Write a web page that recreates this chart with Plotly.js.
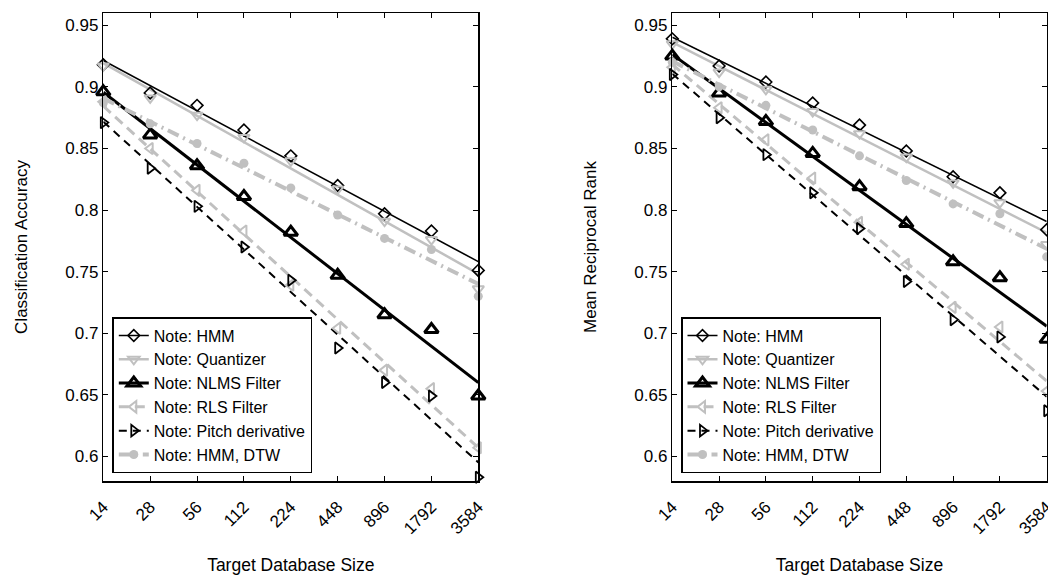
<!DOCTYPE html>
<html>
<head>
<meta charset="utf-8">
<script src="https://cdn.plot.ly/plotly-3.0.1.min.js"></script>
<style>html,body{margin:0;padding:0;background:#fff;}#chart{width:1048px;height:575px;}</style>
</head>
<body>
<div id="chart"></div>
<script>
const categories = ['14','28','56','112','224','448','896','1792','3584'];
const seriesNames = ['Note: HMM','Note: Quantizer','Note: NLMS Filter','Note: RLS Filter','Note: Pitch derivative','Note: HMM, DTW'];

// Classification Accuracy (left panel)
const accHMM   = [0.918, 0.895, 0.885, 0.865, 0.844, 0.820, 0.797, 0.783, 0.751];
const accQuant = [0.917, 0.891, 0.877, 0.859, 0.840, 0.817, 0.791, 0.776, 0.736];
const accNLMS  = [0.896, 0.861, 0.836, 0.811, 0.782, 0.747, 0.715, 0.703, 0.649];
const accRLS   = [0.888, 0.850, 0.816, 0.783, 0.739, 0.704, 0.670, 0.655, 0.607];
const accPitch = [0.871, 0.834, 0.803, 0.770, 0.743, 0.688, 0.660, 0.649, 0.583];
const accDTW   = [0.887, 0.870, 0.854, 0.838, 0.818, 0.796, 0.777, 0.768, 0.730];

// Mean Reciprocal Rank (right panel)
const mrrHMM   = [0.939, 0.917, 0.904, 0.887, 0.869, 0.848, 0.827, 0.814, 0.784];
const mrrQuant = [0.935, 0.912, 0.898, 0.880, 0.862, 0.843, 0.822, 0.806, 0.772];
const mrrNLMS  = [0.925, 0.895, 0.872, 0.846, 0.819, 0.789, 0.758, 0.745, 0.695];
const mrrRLS   = [0.916, 0.883, 0.857, 0.826, 0.790, 0.756, 0.721, 0.705, 0.653];
const mrrPitch = [0.910, 0.875, 0.845, 0.814, 0.785, 0.742, 0.711, 0.697, 0.637];
const mrrDTW   = [0.920, 0.900, 0.885, 0.865, 0.844, 0.824, 0.805, 0.797, 0.762];

const GRAY = '#c0c0c0';
const styles = [
  {color:'black', width:1.6, dash:'solid', symbol:'diamond-open', size:9, mlw:1.6},
  {color:GRAY, width:2.5, dash:'solid', symbol:'triangle-down-open', size:10, mlw:2},
  {color:'black', width:3, dash:'solid', symbol:'triangle-up-open', size:12, mlw:3},
  {color:GRAY, width:3, dash:'10px,6px', symbol:'triangle-left-open', size:10, mlw:2},
  {color:'black', width:2, dash:'8px,6px', symbol:'triangle-right-open', size:10, mlw:1.8},
  {color:GRAY, width:4, dash:'12px,5px,2px,5px', symbol:'circle', size:9, mlw:0}
];

// least-squares straight line over the (log-spaced) category index
function fit(vals){
  const n = vals.length;
  const mx = (n-1)/2;
  const my = vals.reduce((a,b)=>a+b,0)/n;
  let sxy=0, sxx=0;
  vals.forEach((v,i)=>{sxy+=(i-mx)*(v-my); sxx+=(i-mx)*(i-mx);});
  const b = sxy/sxx;
  return vals.map((v,i)=>my + b*(i-mx));
}

const traces = [];
function addPanel(data, xa, ya, legend){
  data.forEach((vals,k)=>{
    const s = styles[k];
    traces.push({type:'scatter', mode:'lines', x:categories, y:fit(vals), xaxis:xa, yaxis:ya,
      line:{color:s.color, width:s.width, dash:s.dash}, showlegend:false, hoverinfo:'skip'});
  });
  data.forEach((vals,k)=>{
    const s = styles[k];
    traces.push({type:'scatter', mode:'markers', x:categories, y:vals, xaxis:xa, yaxis:ya,
      cliponaxis:false,
      marker:{symbol:s.symbol, size:s.size, color:s.color, line:{color:s.color, width:s.mlw}},
      showlegend:false});
  });
  data.forEach((vals,k)=>{
    const s = styles[k];
    traces.push({type:'scatter', mode:'lines+markers', x:[null], y:[null], xaxis:xa, yaxis:ya,
      name:seriesNames[k], legend:legend,
      line:{color:s.color, width:s.width, dash:s.dash},
      marker:{symbol:s.symbol, size:s.size, color:s.color, line:{color:s.color, width:s.mlw}}});
  });
}
addPanel([accHMM,accQuant,accNLMS,accRLS,accPitch,accDTW],'x','y','legend');
addPanel([mrrHMM,mrrQuant,mrrNLMS,mrrRLS,mrrPitch,mrrDTW],'x2','y2','legend2');

const FONT = 'Liberation Sans, Arial, Helvetica, sans-serif';
function xaxis(domain, anchor){
  return {domain:domain, anchor:anchor, type:'category', range:[0,8],
    showline:true, linecolor:'black', linewidth:1.5, mirror:'allticks',
    ticks:'inside', ticklen:5, tickcolor:'black', tickwidth:1,
    tickangle:-45, ticklabelstandoff:8, showgrid:false, zeroline:false,
    tickfont:{family:FONT, size:17, color:'black'},
    title:{text:'Target Database Size', font:{family:FONT, size:17.5, color:'black'}, standoff:34}};
}
function yaxis(anchor, title){
  return {anchor:anchor, domain:[0,1], range:[0.58,0.96], tick0:0.6, dtick:0.05,
    showline:true, linecolor:'black', linewidth:1.5, mirror:'allticks',
    ticks:'inside', ticklen:5, tickcolor:'black', tickwidth:1,
    showgrid:false, zeroline:false,
    tickfont:{family:FONT, size:17, color:'black'},
    title:{text:title, font:{family:FONT, size:17, color:'black'}, standoff:33}};
}
const legendBase = {bgcolor:'white', bordercolor:'black', borderwidth:1.5,
  font:{family:FONT, size:16, color:'black'}, xanchor:'left', yanchor:'bottom', y:0.017,
  tracegroupgap:0, itemwidth:30};

const layout = {
  width:1048, height:575,
  margin:{l:0, r:0, t:13, b:94},
  paper_bgcolor:'white', plot_bgcolor:'white',
  font:{family:FONT, color:'black'},
  xaxis: xaxis([103.3/1048, 478.3/1048], 'y'),
  yaxis: yaxis('x','Classification Accuracy'),
  xaxis2: xaxis([672.3/1048, 1046.7/1048], 'y2'),
  yaxis2: yaxis('x2','Mean Reciprocal Rank'),
  legend: Object.assign({}, legendBase, {x:112.3/1048}),
  legend2: Object.assign({}, legendBase, {x:681/1048}),
};

Plotly.newPlot('chart', traces, layout, {staticPlot:true, displayModeBar:false});
</script>
</body>
</html>
